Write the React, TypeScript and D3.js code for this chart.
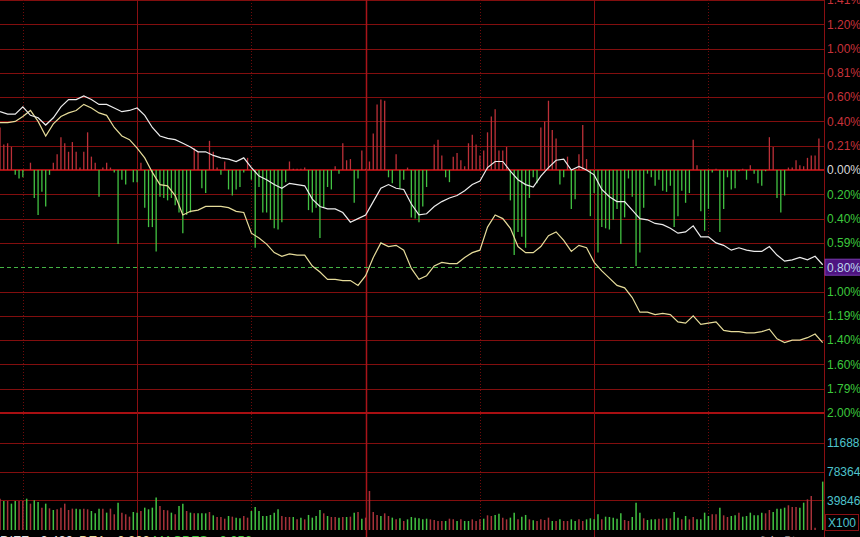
import React, { useEffect, useRef } from "react";
import * as d3 from "d3";

// first visible minute of the session (chart is scrolled, left part cut off)
const START_MIN = 24;
const END_MIN = 240;

// right axis, percent panel
const pctTicks = [1.4, 1.2, 1.0, 0.8, 0.6, 0.4, 0.2, 0, -0.2, -0.4, -0.6, -0.8, -1.0, -1.2, -1.4, -1.6, -1.8, -2.0];
const pctLabels = ["1.41%", "1.20%", "1.00%", "0.81%", "0.60%", "0.40%", "0.21%", "0.00%", "0.20%", "0.40%", "0.59%", "0.80%", "1.00%", "1.19%", "1.40%", "1.60%", "1.79%", "2.00%"];
const refLevel = -0.8;

// right axis, volume panel (X100)
const volTicks = [39846, 78364, 116882];
const volLabels = ["39846", "78364", "116882"];

// time grid (minutes from open): solid on the hour, dotted on the half hour
const hourMarks = [60, 120, 180, 240];
const halfMarks = [30, 90, 150, 210];

// white line, % change, every 2 minutes from START_MIN
const priceLine = [
  0.48, 0.46, 0.46, 0.52, 0.45, 0.43, 0.37, 0.43, 0.52, 0.58,
  0.58, 0.61, 0.58, 0.54, 0.54, 0.51, 0.48, 0.49, 0.51, 0.45,
  0.35, 0.28, 0.26, 0.25, 0.22, 0.19, 0.15, 0.15, 0.12, 0.1,
  0.09, 0.07, 0.1, 0.02, -0.05, -0.08, -0.12, -0.15, -0.11, -0.12,
  -0.13, -0.24, -0.3, -0.32, -0.32, -0.35, -0.43, -0.4, -0.37, -0.26,
  -0.15, -0.12, -0.15, -0.16, -0.28, -0.37, -0.36, -0.3, -0.26, -0.23,
  -0.21, -0.17, -0.12, -0.09, 0.02, 0.07, 0.07, -0.01, -0.08, -0.12,
  -0.14, -0.05, 0.02, 0.08, 0.09, 0.0, 0.03, 0.0, -0.04, -0.16,
  -0.22, -0.26, -0.26, -0.33, -0.4, -0.41, -0.44, -0.45, -0.48, -0.52,
  -0.51, -0.46, -0.55, -0.55, -0.6, -0.62, -0.66, -0.64, -0.66, -0.67,
  -0.67, -0.63, -0.7, -0.75, -0.74, -0.72, -0.74, -0.71, -0.78,
];

// yellow line, every 2 minutes from START_MIN
const avgLine = [
  0.39, 0.39, 0.4, 0.44, 0.49, 0.4, 0.28, 0.38, 0.44, 0.47,
  0.49, 0.54, 0.51, 0.47, 0.45, 0.35, 0.28, 0.25, 0.18, 0.1,
  -0.02, -0.12, -0.13, -0.21, -0.37, -0.34, -0.33, -0.3, -0.3, -0.3,
  -0.31, -0.34, -0.35, -0.52, -0.56, -0.61, -0.68, -0.71, -0.69, -0.7,
  -0.7, -0.79, -0.84, -0.9, -0.9, -0.91, -0.91, -0.95, -0.87, -0.72,
  -0.6, -0.63, -0.62, -0.66, -0.81, -0.9, -0.87, -0.79, -0.76, -0.77,
  -0.77, -0.72, -0.68, -0.66, -0.47, -0.37, -0.4, -0.48, -0.63, -0.68,
  -0.68, -0.63, -0.54, -0.51, -0.58, -0.67, -0.62, -0.64, -0.76, -0.83,
  -0.89, -0.95, -0.97, -1.05, -1.17, -1.17, -1.19, -1.18, -1.19, -1.25,
  -1.26, -1.2, -1.27, -1.26, -1.25, -1.32, -1.33, -1.33, -1.34, -1.34,
  -1.33, -1.31, -1.39, -1.42, -1.4, -1.4, -1.38, -1.35, -1.42,
];

// red/green strength bars, one per minute (units of 0.01%)
const strength = [
  35, 21, 22, 19, -4, -7, -6, 0, 6, -23,
  -37, -18, -30, -4, 6, 13, 27, 22, 15, 23,
  15, 2, 15, 31, 11, 6, -22, 2, 6, 2,
  -2, -61, -8, -12, 0, -10, -10, 6, -31, -47,
  -47, -67, -22, -23, -25, -23, -29, -35, -52, -37,
  -35, 18, 15, -15, -19, 24, 15, 2, -4, 7,
  -16, -21, -16, -14, -2, 10, -8, -64, -14, -35,
  -35, -41, -48, -49, -43, -10, 7, 1, 1, 1,
  2, -33, -35, -31, -56, -31, -14, -16, 3, -3,
  22, 8, 9, -27, -7, 16, 1, 7, 30, 54,
  58, 57, -6, -11, 13, -15, -8, 2, -39, -40,
  -43, -30, -14, 0, 21, 25, 12, -6, -10, 11,
  14, 8, 3, 22, 29, 21, 12, 16, 31, 44,
  50, 16, 16, 19, -25, -70, -51, -55, -64, -23,
  -6, -11, 35, 40, 57, 33, 26, -12, -6, 11,
  -32, -24, 13, 37, 9, -38, -19, -68, -47, -48,
  -49, -41, -32, -61, -39, -7, -22, -79, -68, -31,
  -3, -6, -13, -8, -17, -18, -13, -47, -38, -17,
  -27, -19, 25, 4, -34, -50, -32, -2, 1, -51,
  -32, -6, -16, -15, -1, 1, -8, 4, -3, -11,
  -13, -1, 27, 19, -23, -35, -21, 2, 2, 8,
  4, 3, 10, 12, 12, 26, 0,
];

// volume per minute (X100)
const volume = [
  42100, 39000, 39000, 35400, 39000, 39000, 39000, 42100, 35400, 39900,
  37600, 30000, 35400, 29100, 26900, 27800, 30000, 35400, 26900, 28700,
  28700, 27800, 28700, 27800, 25500, 22400, 28700, 28700, 23300, 28700,
  21100, 36700, 23300, 21100, 17900, 24200, 23300, 25500, 30000, 27800,
  30000, 43500, 32300, 26900, 26400, 23300, 21100, 32300, 35400, 25500,
  23300, 22400, 22400, 22400, 22400, 24200, 19700, 17500, 17500, 15200,
  18800, 17900, 16600, 15700, 18800, 16600, 25500, 30900, 25500, 18800,
  18800, 20200, 23300, 27800, 18800, 17500, 17500, 17500, 14300, 16600,
  14300, 20200, 16600, 18800, 26900, 22400, 18800, 17500, 17500, 16600,
  17500, 17500, 17900, 23300, 24200, 15200, 16600, 52400, 24200, 20200,
  18800, 22400, 18800, 16600, 14300, 15700, 12100, 14300, 17500, 16600,
  15700, 14300, 15200, 14300, 13400, 12100, 12100, 12100, 15200, 14300,
  12100, 14300, 12100, 12100, 14300, 12100, 14300, 15200, 19700, 18800,
  20200, 21900, 16600, 14300, 16600, 23300, 14300, 17900, 20200, 14300,
  13000, 12100, 14300, 13400, 16600, 12100, 12100, 14300, 12100, 12100,
  14300, 12100, 14300, 12100, 14300, 15700, 14300, 21100, 14300, 17900,
  17500, 16600, 15200, 22400, 13400, 12100, 17500, 36700, 23300, 15700,
  13400, 14300, 14300, 15200, 15200, 15700, 15700, 24200, 16600, 14300,
  18800, 14300, 17500, 14300, 14300, 23300, 18800, 21100, 21100, 30000,
  19700, 17500, 18800, 19700, 23300, 17900, 18800, 23300, 19700, 19700,
  23300, 22400, 26900, 24200, 28700, 28700, 30000, 33200, 30900, 30900,
  30000, 36700, 41200, 45700, 3100, 0, 65000,
];

// R = up minute, G = down minute
const volDir =
  "RGRGGRRGRG" + "GRGRGRRRRR" + "GGRRGGGRGR" + "RGRRRGGRGG" + "GGRRRGRGGR" +
  "GRGGGRGRRR" + "GRGGRRGGGG" + "GGGGRRRGRG" + "RGGGGRGRRG" + "RGRGRGRRRR" +
  "GRRGRGRGGG" + "GGGRRRRGRR" + "GRGGRRRGRR" + "GGRRGGRGGR" + "GRRRRGRGRR" +
  "GGRRGGGGRG" + "GGGGRRGGGR" + "GGGRRGRGGR" + "GRRGGGGRRG" + "RRGGRGGGGG" +
  "GRRGGGGRRR" + "GGRRRRG";

const App: React.FC = () => {
  const svgRef = useRef<SVGSVGElement>(null);

  useEffect(() => {
    if (!svgRef.current) return;
    const svg = d3.select(svgRef.current);
    svg.selectAll("*").remove();

    const W = 860;
    const H = 537;
    const plotRight = 824;
    const red = "#bc3038";
    const green = "#42c242";
    const gridRed = "#820e0e";
    const font = "'Liberation Sans', Arial, sans-serif";

    const x = d3.scaleLinear().domain([START_MIN, END_MIN]).range([0, 822.7]);
    const y = d3.scaleLinear().domain([-2, 0]).range([413, 170]);
    const yVol = d3.scaleLinear().domain([0, 116882]).range([530, 443]);
    const crisp = (v: number) => Math.round(v) + 0.5;

    svg.append("rect").attr("width", W).attr("height", H).attr("fill", "#000");

    // Horizontal grid
    const grid = svg.append("g");
    pctTicks.forEach((t) => {
      if (t === refLevel) return;
      const heavy = t === 0 || t === -2;
      grid
        .append("line")
        .attr("x1", 0)
        .attr("x2", plotRight)
        .attr("y1", heavy ? Math.round(y(t)) : crisp(y(t)))
        .attr("y2", heavy ? Math.round(y(t)) : crisp(y(t)))
        .attr("stroke", heavy ? "#a80f12" : gridRed)
        .attr("stroke-width", heavy ? 2 : 1);
    });
    volTicks.forEach((t) => {
      grid
        .append("line")
        .attr("x1", 0)
        .attr("x2", plotRight)
        .attr("y1", crisp(yVol(t)))
        .attr("y2", crisp(yVol(t)))
        .attr("stroke", gridRed);
    });

    // Vertical time grid
    halfMarks.forEach((m) => {
      grid
        .append("line")
        .attr("x1", crisp(x(m)))
        .attr("x2", crisp(x(m)))
        .attr("y1", 0)
        .attr("y2", 531)
        .attr("stroke", "#6e0b0b")
        .attr("stroke-dasharray", "1,2");
    });
    hourMarks.forEach((m) => {
      grid
        .append("line")
        .attr("x1", m === END_MIN ? plotRight + 0.5 : crisp(x(m)))
        .attr("x2", m === END_MIN ? plotRight + 0.5 : crisp(x(m)))
        .attr("y1", 0)
        .attr("y2", H)
        .attr("stroke", m === 120 ? "#a8141a" : "#8a0f12")
        .attr("stroke-width", m === 120 ? 1.5 : 1);
    });

    // Reference level (dashed)
    svg
      .append("line")
      .attr("x1", 0)
      .attr("x2", plotRight)
      .attr("y1", crisp(y(refLevel)))
      .attr("y2", crisp(y(refLevel)))
      .attr("stroke", "#44b444")
      .attr("stroke-dasharray", "4,3");

    // Strength bars
    svg
      .append("g")
      .selectAll("line")
      .data(strength)
      .enter()
      .append("line")
      .attr("x1", (_, i) => x(START_MIN + i))
      .attr("x2", (_, i) => x(START_MIN + i))
      .attr("y1", y(0))
      .attr("y2", (d) => y(d / 100))
      .attr("stroke", (d) => (d >= 0 ? red : green))
      .attr("stroke-width", 1.3);

    // Volume bars
    svg
      .append("g")
      .selectAll("line")
      .data(volume)
      .enter()
      .append("line")
      .attr("x1", (_, i) => x(START_MIN + i))
      .attr("x2", (_, i) => x(START_MIN + i))
      .attr("y1", yVol(0))
      .attr("y2", (d) => yVol(d))
      .attr("stroke", (_, i) => (volDir[i] === "R" ? "#a8323a" : green))
      .attr("stroke-width", 1.5);

    // Lines
    const line = d3
      .line<number>()
      .x((_, i) => x(START_MIN + i * 2))
      .y((d) => y(d));

    svg
      .append("path")
      .datum(avgLine)
      .attr("d", line)
      .attr("fill", "none")
      .attr("stroke", "#e6dc9a")
      .attr("stroke-width", 1.2);

    svg
      .append("path")
      .datum(priceLine)
      .attr("d", line)
      .attr("fill", "none")
      .attr("stroke", "#ececec")
      .attr("stroke-width", 1.2);

    // Right axis labels
    const axis = svg.append("g").attr("font-family", font).attr("font-size", 12);
    pctTicks.forEach((t, i) => {
      const yy = y(t);
      if (t === refLevel) {
        axis
          .append("rect")
          .attr("x", 825)
          .attr("y", yy - 8)
          .attr("width", 36)
          .attr("height", 16)
          .attr("fill", "#4e1480")
          .attr("stroke", "#7a3ab0");
      }
      axis
        .append("text")
        .attr("x", 827)
        .attr("y", yy)
        .attr("dy", "0.36em")
        .attr("fill", t === refLevel ? "#bcd6ee" : t > 0 ? "#c8323a" : t === 0 ? "#d8d8d8" : "#3cc83c")
        .text(pctLabels[i]);
    });
    volTicks.forEach((t, i) => {
      axis
        .append("text")
        .attr("x", 827)
        .attr("y", yVol(t))
        .attr("dy", "0.36em")
        .attr("fill", "#4ec3cc")
        .text(volLabels[i]);
    });
    axis
      .append("rect")
      .attr("x", 825.5)
      .attr("y", 514.5)
      .attr("width", 33)
      .attr("height", 16)
      .attr("fill", "none")
      .attr("stroke", "#8a1014");
    axis
      .append("text")
      .attr("x", 828)
      .attr("y", 522.5)
      .attr("dy", "0.36em")
      .attr("fill", "#4ec3cc")
      .text("X100");

    // Bottom indicator readout (mostly below the visible area)
    const readout = svg.append("g").attr("font-family", font).attr("font-size", 13);
    readout.append("text").attr("x", 0).attr("y", 545).attr("fill", "#e0e0e0").text("DIFF: -0.420;");
    readout.append("text").attr("x", 79).attr("y", 545).attr("fill", "#e6dc9a").text("DEA: -0.322;");
    readout.append("text").attr("x", 153).attr("y", 545).attr("fill", "#3cc83c").text("MACDFS: -0.056;");
    readout.append("text").attr("x", 755).attr("y", 546).attr("fill", "#d0d0d0").attr("font-size", 12).text("成交明细");
    readout.append("text").attr("x", 812).attr("y", 545).attr("fill", "#d0d0d0").attr("font-size", 12).text("∨");
  }, []);

  return (
    <svg
      ref={svgRef}
      width={860}
      height={537}
      style={{ position: "fixed", left: 0, top: 0, display: "block" }}
    />
  );
};

export default App;
